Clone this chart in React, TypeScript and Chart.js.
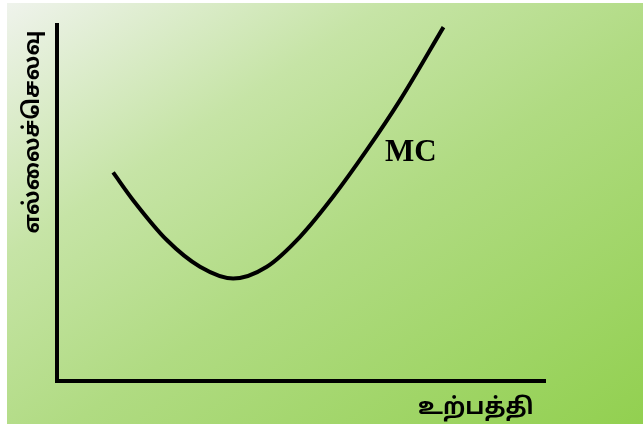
import React, { useEffect, useRef } from "react";
import { Chart, registerables } from "chart.js";

Chart.register(...registerables);

// Output quantity (x) and marginal cost (y) along the MC curve
const quantity = [1.15, 1.56, 2.25, 2.93, 3.61, 4.3, 4.98, 5.66, 6.35, 7.03, 7.92];
const marginalCost = [5.86, 5.08, 3.96, 3.21, 2.88, 3.21, 4.05, 5.18, 6.49, 7.89, 9.94];

const curveLabel = "MC";
const curveLabelPos = [6.72, 6.4];
const xTitle = "உற்பத்தி\u2002";
const yTitle = "எல்லைச்செலவு\u2005";

const W = 643;
const H = 426;
const TAMIL = "'Noto Sans Tamil', Latha, 'Lohit Tamil', 'DejaVu Sans', 'Noto Sans', sans-serif";

const labelPlugin = {
  id: "mcLabel",
  afterDatasetsDraw(chart: any) {
    const { ctx, scales } = chart;
    const px = scales.x.getPixelForValue(curveLabelPos[0]);
    const py = scales.y.getPixelForValue(curveLabelPos[1]);
    ctx.save();
    ctx.font = "bold 31px 'Liberation Serif', 'Times New Roman', serif";
    ctx.fillStyle = "#000";
    ctx.textAlign = "left";
    ctx.textBaseline = "middle";
    ctx.fillText(curveLabel, px, py);
    ctx.restore();
  },
};

export default function App() {
  const ref = useRef<HTMLCanvasElement | null>(null);
  useEffect(() => {
    if (!ref.current) return;
    const chart = new Chart(ref.current, {
      type: "line",
      data: {
        datasets: [
          {
            data: quantity.map((q, i) => ({ x: q, y: marginalCost[i] })),
            borderColor: "#000",
            borderWidth: 4,
            pointRadius: 0,
            cubicInterpolationMode: "monotone",
            fill: false,
          },
        ],
      },
      options: {
        animation: false,
        responsive: false,
        devicePixelRatio: 1,
        layout: { padding: { left: 0, right: 98, top: 25, bottom: 0 } },
        plugins: { legend: { display: false }, tooltip: { enabled: false } },
        scales: {
          x: {
            type: "linear",
            min: 0,
            max: 10,
            grid: { display: false, drawTicks: false },
            ticks: { display: false },
            border: { display: true, color: "#000", width: 4 },
            title: {
              display: true,
              text: xTitle,
              align: "end",
              color: "#000",
              font: { family: TAMIL, size: 23, weight: "bold" },
              padding: { top: 0, bottom: 3 },
            },
            afterFit: (s: any) => {
              s.height = 45;
            },
          },
          y: {
            type: "linear",
            min: 0,
            max: 10,
            grid: { display: false, drawTicks: false },
            ticks: { display: false },
            border: { display: true, color: "#000", width: 4 },
            title: {
              display: true,
              text: yTitle,
              align: "end",
              color: "#000",
              font: { family: TAMIL, size: 22, weight: "bold" },
              padding: { top: 21, bottom: 0 },
            },
            afterFit: (s: any) => {
              s.width = 57;
            },
          },
        },
      },
      plugins: [labelPlugin],
    } as any);
    return () => chart.destroy();
  }, []);

  return (
    <div style={{ position: "fixed", left: 0, top: 0, width: W, height: H, background: "#fff" }}>
      <div
        style={{
          position: "absolute",
          left: 7,
          top: 3,
          width: W - 7,
          height: H - 5,
          background: "linear-gradient(to bottom right, #eff3ec 0%, #c6e4a6 30%, #b0db82 55%, #92d050 100%)",
        }}
      />
      <canvas ref={ref} width={W} height={H} style={{ position: "absolute", left: 0, top: 0, width: W, height: H }} />
    </div>
  );
}
